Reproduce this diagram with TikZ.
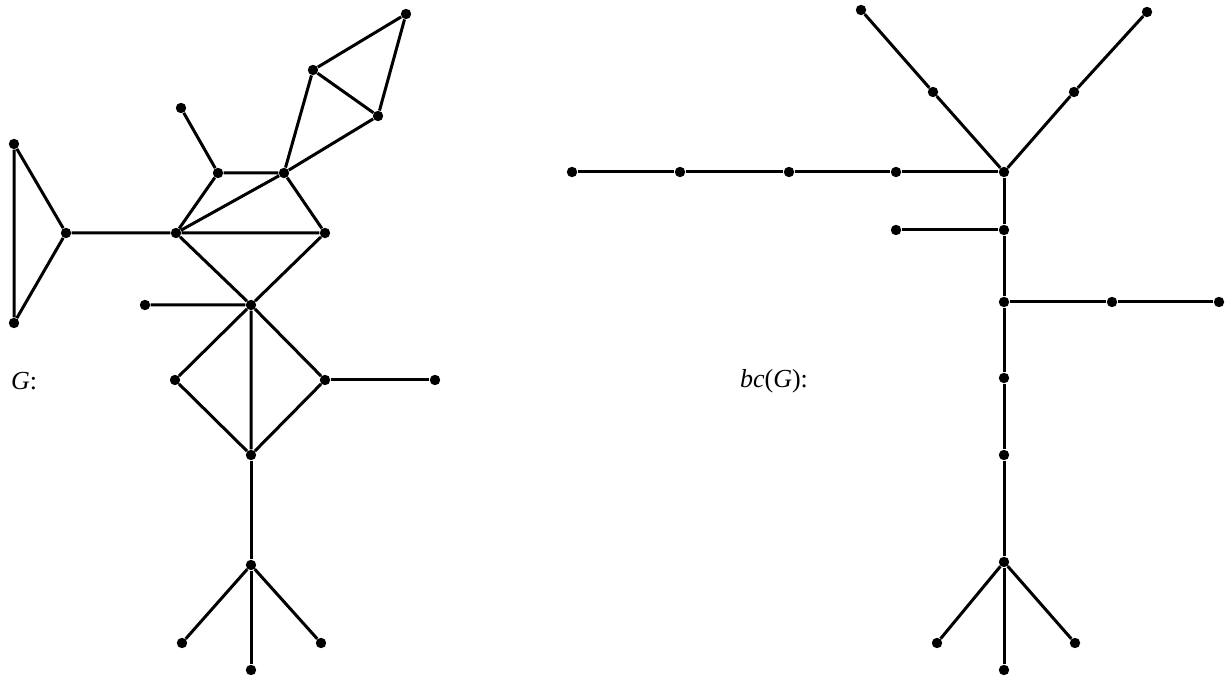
\documentclass[tikz,border=0pt]{standalone}
\usepackage{fontspec}
\setmainfont{Liberation Serif}
\usetikzlibrary{positioning}

\begin{document}
\begin{tikzpicture}[
  x=0.5pt, y=-0.5pt,
  vtx/.style={circle, fill=black, inner sep=0pt, minimum size=5.2pt},
  edge/.style={line width=1.5pt},
  lbl/.style={font=\fontsize{13}{15}\selectfont\itshape, anchor=west}
]
\useasboundingbox (0,0) rectangle (1227,679);

% ---- G ----
\node[vtx] (a1) at (14,144) {};
\node[vtx] (a2) at (14,323) {};
\node[vtx] (a3) at (66,233) {};
\node[vtx] (b)  at (176,233) {};
\node[vtx] (c)  at (218,173) {};
\node[vtx] (c0) at (181,108) {};
\node[vtx] (d)  at (284,173) {};
\node[vtx] (e)  at (325,233) {};
\node[vtx] (f)  at (313,70) {};
\node[vtx] (g)  at (406,14) {};
\node[vtx] (h)  at (378,116) {};
\node[vtx] (i)  at (251,305) {};
\node[vtx] (i0) at (145,305) {};
\node[vtx] (j)  at (175,380) {};
\node[vtx] (k)  at (325,380) {};
\node[vtx] (k0) at (435,380) {};
\node[vtx] (l)  at (251,455) {};
\node[vtx] (m)  at (251,565) {};
\node[vtx] (n1) at (182,643) {};
\node[vtx] (n2) at (251,670) {};
\node[vtx] (n3) at (321,643) {};
\node[lbl] (gl) at (4,381) {G\/\upshape:};

\draw[edge] (a1) -- (a2) -- (a3) -- (a1);
\draw[edge] (a3) -- (b) -- (c) -- (c0);
\draw[edge] (c) -- (d) -- (e) -- (b) -- (d) -- (h);
\draw[edge] (d) -- (f) -- (g) -- (h) -- (f);
\draw[edge] (b) -- (i) -- (e);
\draw[edge] (i0) -- (i) -- (j) -- (l) -- (k) -- (i) -- (l);
\draw[edge] (k) -- (k0);
\draw[edge] (l) -- (m);
\draw[edge] (m) -- (n1);
\draw[edge] (m) -- (n2);
\draw[edge] (m) -- (n3);

% ---- bc(G) ----
\node[vtx] (p1) at (572,172) {};
\node[vtx] (p2) at (680,172) {};
\node[vtx] (p3) at (789,172) {};
\node[vtx] (p4) at (896,172) {};
\node[vtx] (q)  at (1004,172) {};
\node[vtx] (r1) at (861,10) {};
\node[vtx] (r2) at (933,92) {};
\node[vtx] (s1) at (1147,12) {};
\node[vtx] (s2) at (1074,92) {};
\node[vtx] (t)  at (1004,230) {};
\node[vtx] (t0) at (896,230) {};
\node[vtx] (u)  at (1004,302) {};
\node[vtx] (u1) at (1112,302) {};
\node[vtx] (u2) at (1219,302) {};
\node[vtx] (v)  at (1004,378) {};
\node[vtx] (w)  at (1004,455) {};
\node[vtx] (x)  at (1004,562) {};
\node[vtx] (y1) at (937,643) {};
\node[vtx] (y2) at (1004,670) {};
\node[vtx] (y3) at (1075,643) {};
\node[lbl] (bcl) at (733,381) {bc\upshape(\itshape G\/\upshape):};

\draw[edge] (p1) -- (p2) -- (p3) -- (p4) -- (q);
\draw[edge] (r1) -- (r2) -- (q) -- (s2) -- (s1);
\draw[edge] (q) -- (t) -- (u) -- (v) -- (w) -- (x);
\draw[edge] (t0) -- (t);
\draw[edge] (u) -- (u1) -- (u2);
\draw[edge] (x) -- (y1);
\draw[edge] (x) -- (y2);
\draw[edge] (x) -- (y3);
\end{tikzpicture}
\end{document}
